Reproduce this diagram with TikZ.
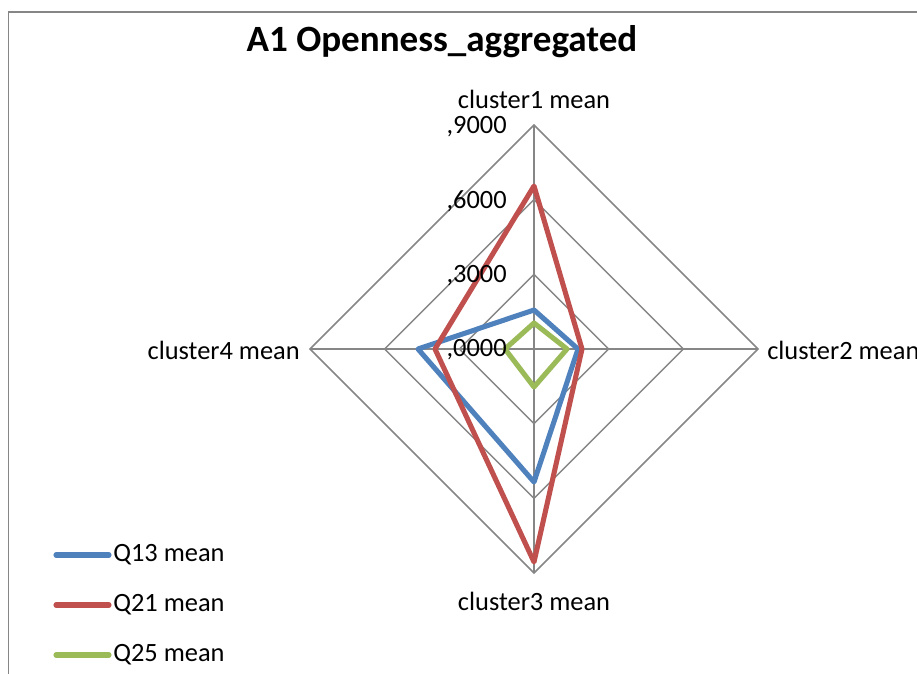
\documentclass[tikz,border=0pt]{standalone}
\usepackage{fontspec}
\setmainfont{Carlito}
\definecolor{gridgray}{HTML}{868686}
\definecolor{qblue}{HTML}{4F81BD}
\definecolor{qred}{HTML}{C0504D}
\definecolor{qgreen}{HTML}{9BBB59}
\tikzset{
  gridline/.style={draw=gridgray, line width=1.1pt},
  series/.style={line width=3.8pt, line join=round},
  legline/.style={line width=3.8pt, line cap=round},
  lbl/.style={font=\fontsize{19.8pt}{22pt}\selectfont, inner sep=0pt},
}
\begin{document}
\begin{tikzpicture}[x=0.75pt,y=-0.75pt]
\useasboundingbox (0,0) rectangle (917,674);
% frame
\draw[draw=gridgray, line width=1.2pt] (8.5,674) -- (8.5,12) -- (917,12);
% centre and axis tips
\coordinate (C) at (534,349);
\foreach \r/\n in {74.67/a,149.33/b,224/c}{
  \coordinate (T\n) at (534,349-\r);
  \coordinate (R\n) at (534+\r,349);
  \coordinate (B\n) at (534,349+\r);
  \coordinate (L\n) at (534-\r,349);
  \draw[gridline] (T\n) -- (R\n) -- (B\n) -- (L\n) -- cycle;
}
\draw[gridline] (C) -- (Tc) (C) -- (Rc) (C) -- (Bc) (C) -- (Lc);
% series
\coordinate (q13a) at (534,310); \coordinate (q13b) at (578,349);
\coordinate (q13c) at (534,482); \coordinate (q13d) at (418,349);
\coordinate (q21a) at (534,186); \coordinate (q21b) at (582,349);
\coordinate (q21c) at (534,562); \coordinate (q21d) at (435,349);
\coordinate (q25a) at (534,323); \coordinate (q25b) at (567,349);
\coordinate (q25c) at (534,387); \coordinate (q25d) at (505,349);
\draw[series, qblue] (q13a) -- (q13b) -- (q13c) -- (q13d) -- cycle;
\draw[series, qred] (q21a) -- (q21b) -- (q21c) -- (q21d) -- cycle;
\draw[series, qgreen] (q25a) -- (q25b) -- (q25c) -- (q25d) -- cycle;
% value labels
\node[lbl, anchor=east] (v9) at (507,127) {,9000};
\node[lbl, anchor=east] (v6) at (507,201) {,6000};
\node[lbl, anchor=east] (v3) at (507,276) {,3000};
\node[lbl, anchor=east] (v0) at (507,350) {,0000};
% category labels
\node[lbl] (c1) at (534,99) {cluster1 mean};
\node[lbl, anchor=west] (c2) at (767,350) {cluster2 mean};
\node[lbl] (c3) at (534,601) {cluster3 mean};
\node[lbl, anchor=east] (c4) at (300,350) {cluster4 mean};
% title
\node[inner sep=0pt, font=\fontsize{27.8pt}{32pt}\selectfont\bfseries] (title) at (442,42) {A1 Openness\_aggregated};
% legend
\coordinate (l1a) at (56,555); \coordinate (l1b) at (109,555);
\coordinate (l2a) at (56,605); \coordinate (l2b) at (109,605);
\coordinate (l3a) at (56,655); \coordinate (l3b) at (109,655);
\draw[legline, qblue] (l1a) -- (l1b);
\draw[legline, qred] (l2a) -- (l2b);
\draw[legline, qgreen] (l3a) -- (l3b);
\node[lbl, anchor=west] (t1) at (113,555) {Q13 mean};
\node[lbl, anchor=west] (t2) at (113,605) {Q21 mean};
\node[lbl, anchor=west] (t3) at (113,655) {Q25 mean};
\end{tikzpicture}
\end{document}
